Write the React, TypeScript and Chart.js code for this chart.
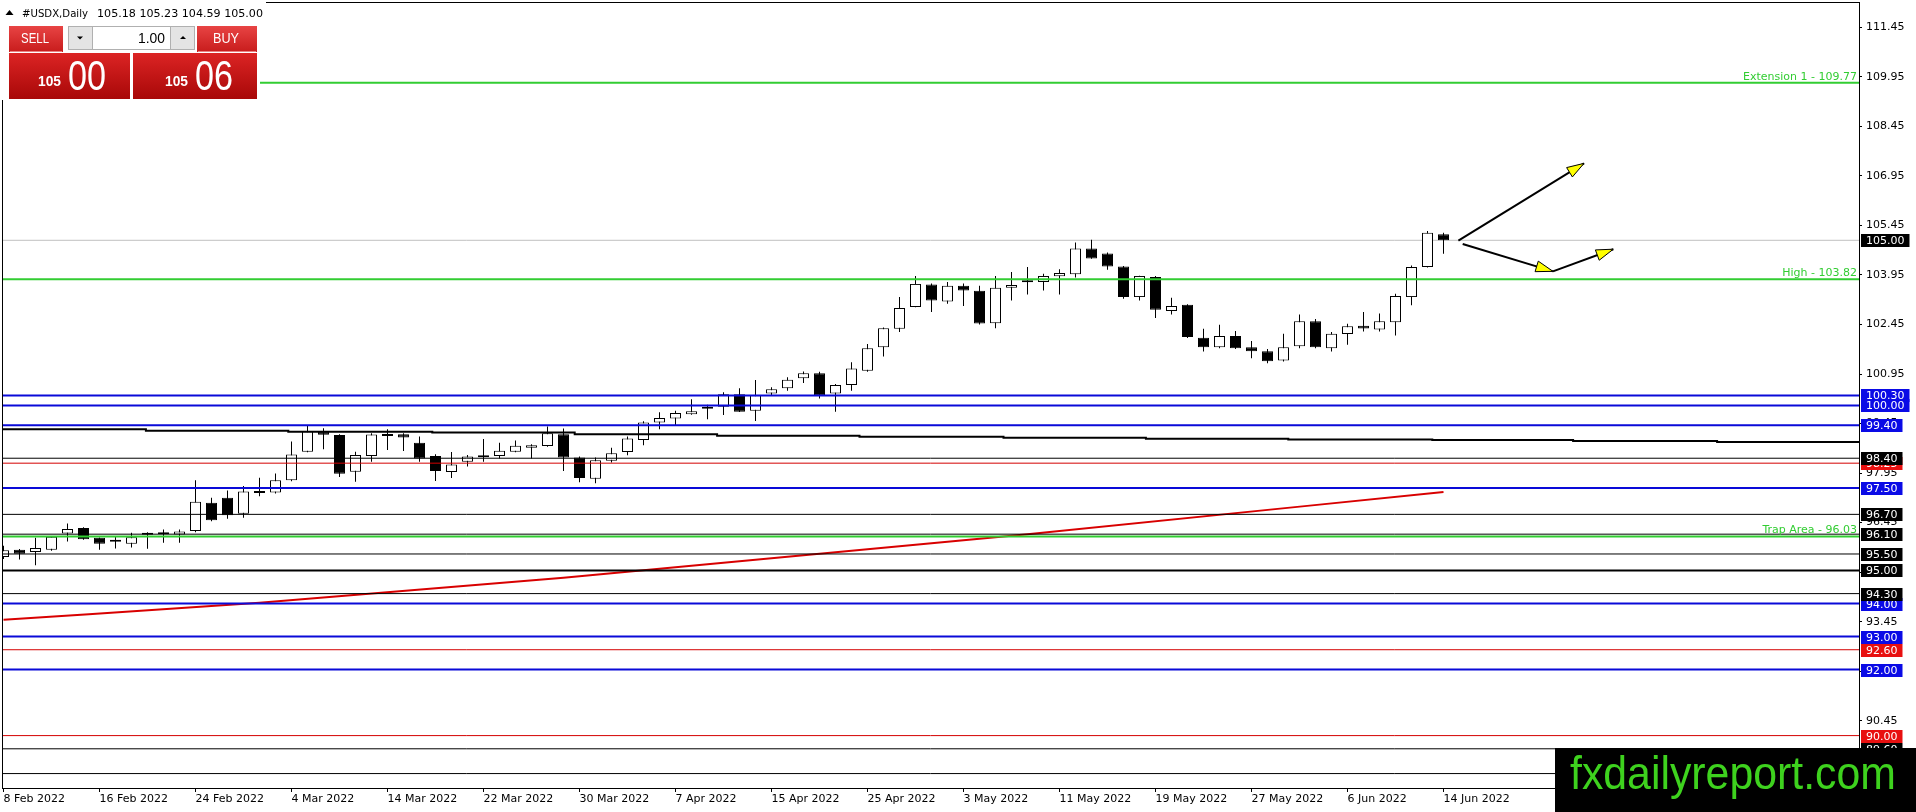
import React, { useEffect, useRef } from "react";
import { Chart, registerables } from "chart.js";

Chart.register(...registerables);

// ---------- categories ----------
const dates = [
  "8 Feb 2022", "9 Feb 2022", "10 Feb 2022", "11 Feb 2022", "14 Feb 2022", "15 Feb 2022", "16 Feb 2022", "17 Feb 2022",
  "18 Feb 2022", "21 Feb 2022", "22 Feb 2022", "23 Feb 2022", "24 Feb 2022", "25 Feb 2022", "28 Feb 2022",
  "1 Mar 2022", "2 Mar 2022", "3 Mar 2022", "4 Mar 2022", "7 Mar 2022", "8 Mar 2022", "9 Mar 2022", "10 Mar 2022",
  "11 Mar 2022", "14 Mar 2022", "15 Mar 2022", "16 Mar 2022", "17 Mar 2022", "18 Mar 2022", "21 Mar 2022",
  "22 Mar 2022", "23 Mar 2022", "24 Mar 2022", "25 Mar 2022", "28 Mar 2022", "29 Mar 2022", "30 Mar 2022", "31 Mar 2022",
  "1 Apr 2022", "4 Apr 2022", "5 Apr 2022", "6 Apr 2022", "7 Apr 2022", "8 Apr 2022", "11 Apr 2022", "12 Apr 2022",
  "13 Apr 2022", "14 Apr 2022", "15 Apr 2022", "18 Apr 2022", "19 Apr 2022", "20 Apr 2022", "21 Apr 2022", "22 Apr 2022",
  "25 Apr 2022", "26 Apr 2022", "27 Apr 2022", "28 Apr 2022", "29 Apr 2022",
  "2 May 2022", "3 May 2022", "4 May 2022", "5 May 2022", "6 May 2022", "9 May 2022", "10 May 2022", "11 May 2022",
  "12 May 2022", "13 May 2022", "16 May 2022", "17 May 2022", "18 May 2022", "19 May 2022", "20 May 2022",
  "23 May 2022", "24 May 2022", "25 May 2022", "26 May 2022", "27 May 2022", "30 May 2022", "31 May 2022",
  "1 Jun 2022", "2 Jun 2022", "3 Jun 2022", "6 Jun 2022", "7 Jun 2022", "8 Jun 2022", "9 Jun 2022", "10 Jun 2022",
  "13 Jun 2022", "14 Jun 2022",
];

// ---------- OHLC series ----------
const opens = [
  95.41, 95.63, 95.56, 95.63, 96.12, 96.29, 95.99, 95.87, 95.81, 96.08, 96.12, 96.09, 96.20, 97.05, 97.20,
  96.72, 97.40, 97.36, 97.73, 98.60, 99.21, 99.10, 97.99, 98.47, 99.07, 99.13, 98.87, 98.47, 97.98, 98.29,
  98.48, 98.47, 98.60, 98.72, 98.77, 99.13, 98.42, 97.78, 98.32, 98.59, 98.95, 99.48, 99.60, 99.73, 99.90,
  99.96, 100.34, 99.84, 100.36, 100.52, 100.82, 100.97, 100.36, 100.62, 101.05, 101.76, 102.32, 102.98, 103.66,
  103.15, 103.62, 103.47, 102.49, 103.56, 103.73, 103.74, 103.91, 103.97, 104.75, 104.60, 104.21, 103.28,
  103.89, 102.86, 103.05, 102.05, 101.76, 102.10, 101.76, 101.64, 101.36, 101.79, 102.55, 101.73, 102.16,
  102.41, 102.30, 102.52, 103.28, 104.19, 105.18,
];
const highs = [
  95.75, 95.65, 95.99, 96.04, 96.42, 96.31, 96.00, 96.04, 96.14, 96.16, 96.24, 96.24, 97.73, 97.20, 97.42,
  97.56, 97.81, 97.94, 98.91, 99.40, 99.31, 99.13, 98.60, 99.16, 99.28, 99.16, 99.06, 98.52, 98.59, 98.50,
  98.98, 98.87, 98.94, 98.82, 99.36, 99.30, 98.45, 98.42, 98.72, 99.06, 99.52, 99.79, 99.84, 100.19, 100.02,
  100.40, 100.52, 100.77, 100.55, 100.85, 101.03, 101.02, 100.65, 101.31, 101.86, 102.36, 103.28, 103.92, 103.69,
  103.74, 103.69, 103.62, 103.92, 104.04, 104.19, 103.99, 104.12, 104.93, 105.02, 104.63, 104.22, 103.93,
  103.92, 103.26, 103.06, 102.32, 102.44, 102.25, 101.95, 101.71, 102.17, 102.75, 102.62, 102.22, 102.47,
  102.83, 102.78, 103.38, 104.24, 105.28, 105.23,
];
const lows = [
  95.35, 95.33, 95.16, 95.60, 95.88, 95.93, 95.63, 95.67, 95.70, 95.66, 95.84, 95.84, 96.16, 96.49, 96.57,
  96.60, 97.25, 97.33, 97.70, 98.58, 98.67, 97.83, 97.69, 98.29, 98.65, 98.62, 98.29, 97.71, 97.80, 98.15,
  98.29, 98.39, 98.58, 98.39, 98.75, 98.01, 97.67, 97.64, 98.27, 98.49, 98.79, 99.28, 99.38, 99.72, 99.58,
  99.71, 99.80, 99.53, 100.29, 100.44, 100.68, 100.21, 99.81, 100.44, 101.02, 101.48, 102.22, 102.97, 102.83,
  103.08, 103.01, 102.45, 102.34, 103.18, 103.36, 103.48, 103.36, 103.87, 104.44, 104.11, 103.23, 103.18,
  102.65, 102.75, 102.04, 101.63, 101.73, 101.71, 101.43, 101.28, 101.33, 101.73, 101.73, 101.63, 101.84,
  102.24, 102.24, 102.12, 103.03, 104.18, 104.59,
];
const closes = [
  95.61, 95.51, 95.68, 96.02, 96.26, 95.95, 95.81, 95.89, 96.01, 96.10, 96.10, 96.18, 97.08, 96.52, 96.67,
  97.39, 97.35, 97.73, 98.51, 99.22, 99.11, 97.93, 98.50, 99.12, 99.09, 99.03, 98.39, 98.01, 98.21, 98.45,
  98.43, 98.63, 98.78, 98.79, 99.16, 98.42, 97.80, 98.34, 98.55, 99.00, 99.48, 99.62, 99.77, 99.82, 99.96,
  100.34, 99.81, 100.31, 100.49, 100.78, 100.97, 100.31, 100.62, 101.12, 101.73, 102.34, 102.95, 103.68, 103.18,
  103.62, 103.48, 102.48, 103.56, 103.65, 103.75, 103.92, 104.01, 104.75, 104.45, 104.21, 103.28, 103.92,
  102.90, 103.01, 102.07, 101.76, 102.10, 101.73, 101.64, 101.34, 101.76, 102.55, 101.76, 102.17, 102.40,
  102.33, 102.55, 103.31, 104.19, 105.23, 105.00,
];

// ---------- tick labels ----------
const xTickIndex = [0, 6, 12, 18, 24, 30, 36, 42, 48, 54, 60, 66, 72, 78, 84, 90];
const yTicks = [111.45, 109.95, 108.45, 106.95, 105.45, 103.95, 102.45, 100.95, 99.45, 97.95, 96.45, 94.95, 93.45, 91.95, 90.45, 88.95];

// ---------- indicator lines ----------
// stepped black moving average (bar index where each step starts, value)
const maStepX = [-0.1, 8.9, 17.8, 26.8, 35.7, 44.6, 53.5, 62.5, 71.4, 80.3, 89.3, 98.1, 107.1, 116.0];
const maStepY = [99.28, 99.23, 99.20, 99.18, 99.13, 99.08, 99.05, 99.02, 98.99, 98.97, 98.95, 98.92, 98.89, 98.89];
// red long moving average
const redMaX = [0, 16, 35, 64, 90];
const redMaY = [93.51, 94.02, 94.78, 96.10, 97.38];

// ---------- horizontal levels (order = drawing order of axis labels) ----------
const levelPrices = [109.77, 105.0, 103.82, 100.3, 100.0, 99.4, 98.25, 98.4, 97.5, 96.7, 96.1, 96.03, 95.5, 95.0, 94.0, 94.3, 93.0, 92.6, 92.0, 90.0, 89.6, 88.85];
const levelKinds = ["green", "bid", "green", "blue", "blue", "blue", "red", "black", "blue", "black", "black", "green", "black", "blackBold", "blue", "black", "blue", "red", "blue", "red", "black", "black"];
const greenLabelPrices = [109.77, 103.82, 96.03];
const greenLabelTexts = ["Extension 1 - 109.77", "High - 103.82", "Trap Area - 96.03"];

// ---------- arrows ----------
const arrowStartX = [90.93, 91.2, 96.84];
const arrowStartY = [104.99, 104.89, 104.06];
const arrowEndX = [98.78, 96.84, 100.61];
const arrowEndY = [107.33, 104.06, 104.73];

// ---------- header ----------
const titleSymbol = "#USDX,Daily";
const titleOHLC = "105.18 105.23 104.59 105.00";
const sellBig = ["105", "00"];
const buyBig = ["105", "06"];
const lotText = "1.00";
const watermark = "fxdailyreport.com";

// ---------- styles ----------
const GREEN = "#32CD32";
const KIND_STYLE: Record<string, { color: string; width: number; box: string | null; order: number }> = {
  green: { color: GREEN, width: 2, box: null, order: 2 },
  bid: { color: "#C0C0C0", width: 1, box: "#000000", order: 20 },
  blue: { color: "#0A0AD8", width: 2, box: "#0A0AE6", order: 2 },
  red: { color: "#D40000", width: 1, box: "#E81010", order: 2 },
  black: { color: "#000000", width: 1, box: "#000000", order: 2 },
  blackBold: { color: "#000000", width: 2, box: "#000000", order: 2 },
};
const FONT = '"DejaVu Sans", Verdana, sans-serif';
const NARROW = '"Liberation Sans Narrow", "Liberation Sans", Arial, sans-serif';

const PLOT_W = 1857;
const BAR_PX = 16;
const X_MIN = -0.09375;
const X_MAX = X_MIN + PLOT_W / BAR_PX;
const Y_MIN = 88.413;
const Y_MAX = 112.217;

function fitText(ctx: any, text: string, x: number, y: number, font: string, width: number) {
  ctx.save();
  ctx.font = font;
  ctx.textAlign = "left";
  ctx.textBaseline = "alphabetic";
  const w = ctx.measureText(text).width || 1;
  ctx.translate(x, y);
  ctx.scale(width / w, 1);
  ctx.fillText(text, 0, 0);
  ctx.restore();
}

function gradRect(ctx: any, x: number, y: number, w: number, h: number, c1: string, c2: string) {
  const g = ctx.createLinearGradient(0, y, 0, y + h);
  g.addColorStop(0, c1);
  g.addColorStop(1, c2);
  ctx.fillStyle = g;
  ctx.fillRect(x, y, w, h);
}

const overlayPlugin = {
  id: "mt4overlay",
  beforeDraw(chart: any) {
    const ctx = chart.ctx;
    ctx.save();
    ctx.fillStyle = "#ffffff";
    ctx.fillRect(0, 0, chart.width, chart.height);
    ctx.restore();
  },
  afterDatasetsDraw(chart: any) {
    const { ctx, scales } = chart;
    const xs = scales.x;
    const ys = scales.y;
    ctx.save();
    for (let k = 0; k < arrowEndX.length; k++) {
      const sx = xs.getPixelForValue(arrowStartX[k]);
      const sy = ys.getPixelForValue(arrowStartY[k]);
      const ex = xs.getPixelForValue(arrowEndX[k]);
      const ey = ys.getPixelForValue(arrowEndY[k]);
      const len = Math.hypot(ex - sx, ey - sy) || 1;
      const ux = (ex - sx) / len;
      const uy = (ey - sy) / len;
      const bx = ex - ux * 17;
      const by = ey - uy * 17;
      const nx = -uy;
      const ny = ux;
      ctx.beginPath();
      ctx.moveTo(ex, ey);
      ctx.lineTo(bx + nx * 5.5, by + ny * 5.5);
      ctx.lineTo(bx - nx * 5.5, by - ny * 5.5);
      ctx.closePath();
      ctx.fillStyle = "#FFFF00";
      ctx.fill();
      ctx.strokeStyle = "#000000";
      ctx.lineWidth = 1;
      ctx.stroke();
    }
    ctx.restore();
  },
  afterDraw(chart: any) {
    const { ctx, chartArea: ca, scales } = chart;
    const ys = scales.y;
    ctx.save();

    // plot frame
    ctx.strokeStyle = "#000";
    ctx.lineWidth = 1;
    ctx.strokeRect(ca.left + 0.5, ca.top + 0.5, ca.right - ca.left, ca.bottom - ca.top);

    // green level captions
    ctx.font = "11px " + FONT;
    ctx.textAlign = "right";
    ctx.textBaseline = "alphabetic";
    ctx.fillStyle = GREEN;
    greenLabelPrices.forEach((p, k) => {
      ctx.fillText(greenLabelTexts[k], ca.right - 2, ys.getPixelForValue(p) - 3);
    });

    // price labels on the right scale
    ctx.textAlign = "left";
    ctx.textBaseline = "middle";
    levelPrices.forEach((p, k) => {
      const st = KIND_STYLE[levelKinds[k]];
      if (!st.box) return;
      const yp = Math.round(ys.getPixelForValue(p));
      const t = p.toFixed(2);
      const w = ctx.measureText(t).width;
      ctx.fillStyle = st.box;
      ctx.fillRect(ca.right + 2, yp - 6, w + 10, 13);
      ctx.fillStyle = "#ffffff";
      ctx.fillText(t, ca.right + 7, yp + 1);
    });

    // title
    ctx.fillStyle = "#ffffff";
    ctx.fillRect(0, 0, 266, 22);
    ctx.fillStyle = "#000";
    ctx.beginPath();
    ctx.moveTo(5.5, 15);
    ctx.lineTo(13.5, 15);
    ctx.lineTo(9.5, 10);
    ctx.closePath();
    ctx.fill();
    ctx.font = "11px " + FONT;
    ctx.textAlign = "left";
    ctx.textBaseline = "alphabetic";
    fitText(ctx, titleSymbol, 22, 17, "11px " + FONT, 66);
    fitText(ctx, titleOHLC, 97, 17, "11px " + FONT, 166);

    // one-click trading panel
    ctx.fillStyle = "#ffffff";
    ctx.fillRect(0, 22, 260, 78);
    gradRect(ctx, 9, 26, 54, 26, "#e84444", "#c81c1c");
    gradRect(ctx, 197, 26, 60, 26, "#e84444", "#c81c1c");
    gradRect(ctx, 9, 53, 121, 46, "#dc2424", "#a80808");
    gradRect(ctx, 133, 53, 124, 46, "#dc2424", "#a80808");
    ctx.strokeStyle = "rgba(255,200,200,0.6)";
    ctx.beginPath();
    ctx.moveTo(10, 51.5);
    ctx.lineTo(62, 51.5);
    ctx.moveTo(198, 51.5);
    ctx.lineTo(256, 51.5);
    ctx.stroke();
    // lot control
    ctx.fillStyle = "#e4e4e4";
    ctx.fillRect(68, 26, 24, 24);
    ctx.fillRect(171, 26, 24, 24);
    ctx.fillStyle = "#ffffff";
    ctx.fillRect(92, 26, 79, 24);
    ctx.strokeStyle = "#b0b0b0";
    ctx.strokeRect(68.5, 26.5, 126, 23);
    ctx.beginPath();
    ctx.moveTo(92.5, 26.5);
    ctx.lineTo(92.5, 49.5);
    ctx.moveTo(170.5, 26.5);
    ctx.lineTo(170.5, 49.5);
    ctx.stroke();
    ctx.fillStyle = "#000";
    ctx.beginPath();
    ctx.moveTo(77, 36.5);
    ctx.lineTo(83, 36.5);
    ctx.lineTo(80, 39.5);
    ctx.closePath();
    ctx.fill();
    ctx.beginPath();
    ctx.moveTo(180, 39);
    ctx.lineTo(186, 39);
    ctx.lineTo(183, 36);
    ctx.closePath();
    ctx.fill();
    ctx.fillStyle = "#000";
    fitText(ctx, lotText, 138, 43, '14px "Liberation Sans", Arial, sans-serif', 27);
    ctx.fillStyle = "#ffffff";
    fitText(ctx, "SELL", 21, 43, "15px " + NARROW, 28);
    fitText(ctx, "BUY", 213, 43, "15px " + NARROW, 26);
    fitText(ctx, sellBig[0], 38, 86, 'bold 14px "Liberation Sans", Arial, sans-serif', 23);
    fitText(ctx, sellBig[1], 68, 90, "43px " + NARROW, 38);
    fitText(ctx, buyBig[0], 165, 86, 'bold 14px "Liberation Sans", Arial, sans-serif', 23);
    fitText(ctx, buyBig[1], 195, 90, "43px " + NARROW, 38);

    // watermark
    ctx.fillStyle = "#000000";
    ctx.fillRect(1555, 748, chart.width - 1555, chart.height - 748);
    ctx.fillStyle = "#3ed21e";
    fitText(ctx, watermark, 1570, 789, "47px " + NARROW, 326);

    ctx.restore();
  },
};

function buildConfig(): any {
  const wickData = dates.map((_, i) => ({ x: i, y: [lows[i], highs[i]] }));
  const bodyData = dates.map((_, i) => ({ x: i, y: [opens[i], closes[i]] }));
  const bodyColors = dates.map((_, i) => (closes[i] >= opens[i] ? "#ffffff" : "#000000"));

  const levelSets = levelPrices.map((p, k) => {
    const st = KIND_STYLE[levelKinds[k]];
    return {
      type: "line",
      data: [
        { x: X_MIN, y: p },
        { x: X_MAX, y: p },
      ],
      borderColor: st.color,
      borderWidth: st.width,
      pointRadius: 0,
      fill: false,
      order: st.order,
    };
  });

  const arrowSets = arrowEndX.map((_, k) => ({
    type: "line",
    data: [
      { x: arrowStartX[k], y: arrowStartY[k] },
      { x: arrowEndX[k], y: arrowEndY[k] },
    ],
    borderColor: "#000000",
    borderWidth: 2,
    pointRadius: 0,
    fill: false,
    order: 1,
  }));

  return {
    type: "bar",
    data: {
      datasets: [
        {
          type: "bar",
          data: wickData,
          backgroundColor: "#000000",
          borderWidth: 0,
          barThickness: 1,
          grouped: false,
          inflateAmount: 0,
          order: 11,
        },
        {
          type: "bar",
          data: bodyData,
          backgroundColor: bodyColors,
          borderColor: "#000000",
          borderWidth: 1,
          borderSkipped: false,
          barThickness: 11,
          minBarLength: 2,
          grouped: false,
          inflateAmount: 0,
          order: 10,
        },
        {
          type: "line",
          data: maStepX.map((x, i) => ({ x, y: maStepY[i] })),
          borderColor: "#000000",
          borderWidth: 2,
          stepped: true,
          pointRadius: 0,
          fill: false,
          order: 5,
        },
        {
          type: "line",
          data: redMaX.map((x, i) => ({ x, y: redMaY[i] })),
          borderColor: "#D80000",
          borderWidth: 2,
          cubicInterpolationMode: "monotone",
          pointRadius: 0,
          fill: false,
          order: 5,
        },
        ...levelSets,
        ...arrowSets,
      ],
    },
    options: {
      responsive: false,
      maintainAspectRatio: false,
      animation: false,
      devicePixelRatio: 1,
      events: [],
      layout: { padding: { left: 2, top: 2, right: 0, bottom: 0 } },
      plugins: { legend: { display: false }, tooltip: { enabled: false }, title: { display: false } },
      scales: {
        x: {
          type: "linear",
          position: "bottom",
          min: X_MIN,
          max: X_MAX,
          offset: false,
          afterBuildTicks: (s: any) => {
            s.ticks = xTickIndex.map((v) => ({ value: v }));
          },
          afterFit: (s: any) => {
            s.height = 24;
            s.paddingLeft = 0;
            s.paddingRight = 0;
            s.paddingTop = 0;
            s.paddingBottom = 0;
          },
          grid: { display: true, drawOnChartArea: false, drawTicks: true, tickLength: 4, color: "#000000", offset: false },
          border: { display: false },
          ticks: {
            autoSkip: false,
            maxRotation: 0,
            minRotation: 0,
            align: "start",
            padding: 1,
            color: "#000000",
            font: { family: FONT, size: 11 },
            callback: (v: any) => {
              const i = Math.round(Number(v));
              return dates[i] ?? "";
            },
          },
        },
        y: {
          type: "linear",
          position: "right",
          min: Y_MIN,
          max: Y_MAX,
          afterBuildTicks: (s: any) => {
            s.ticks = yTicks.map((v) => ({ value: v }));
          },
          afterFit: (s: any) => {
            s.width = 57;
            s.paddingLeft = 0;
            s.paddingRight = 0;
            s.paddingTop = 0;
            s.paddingBottom = 0;
          },
          grid: { display: true, drawOnChartArea: false, drawTicks: true, tickLength: 3, color: "#000000" },
          border: { display: true, color: "#000000" },
          ticks: {
            padding: 4,
            color: "#000000",
            font: { family: FONT, size: 11 },
            callback: (v: any) => Number(v).toFixed(2),
          },
        },
      },
    },
    plugins: [overlayPlugin],
  };
}

export default function App() {
  const ref = useRef<HTMLCanvasElement>(null);
  useEffect(() => {
    const canvas = ref.current;
    if (!canvas) return;
    const chart = new Chart(canvas, buildConfig());
    return () => chart.destroy();
  }, []);
  return (
    <div style={{ position: "fixed", left: 0, top: 0, width: 1916, height: 812, background: "#ffffff", overflow: "hidden" }}>
      <canvas ref={ref} width={1916} height={812} style={{ display: "block", width: 1916, height: 812 }} />
    </div>
  );
}
